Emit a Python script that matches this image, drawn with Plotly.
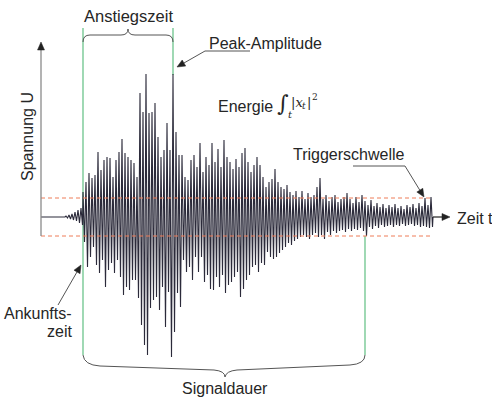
import math
import plotly.graph_objects as go

W, H = 492, 400

# ---- signal data (time in samples, voltage in arbitrary units) ----
quiet_t = [41, 65]
quiet_u = [0, 0]
precursor_t0 = 66
precursor_u = [1, -1, 2, -2, 3, -3, 5, -4, 7, -6, 9, -8]
burst_t0 = 83
dt = 1.5
peaks = [25, 35, 44, 39, 42, 65, 47, 57, 60, 59,
         40, 57, 65, 78, 64, 60, 57, 54, 40, 124,
         105, 143, 104, 105, 114, 80, 60, 67, 94, 67,
         143, 85, 62, 62, 40, 37, 57, 62, 50, 74,
         45, 60, 52, 74, 55, 68, 50, 77, 60, 55,
         48, 58, 50, 64, 69, 55, 45, 52, 60, 52,
         40, 30, 35, 38, 48, 35, 30, 28, 32, 25,
         22, 26, 20, 26, 18, 24, 20, 22, 30, 39,
         18, 22, 16, 20, 22, 15, 18, 20, 24, 18,
         14, 20, 15, 22, 16, 12, 17, 11, 14, 10,
         13, 9, 12, 10, 13, 9, 11, 8, 12, 10,
         13, 9, 14, 11, 19, 12, 20]
troughs = [-25, -50, -40, -30, -48, -56, -43, -70, -53, -46,
           -56, -43, -60, -78, -70, -73, -63, -63, -81, -108,
           -128, -138, -91, -83, -80, -93, -70, -110, -75, -140,
           -115, -76, -90, -43, -55, -50, -63, -40, -55, -40,
           -65, -58, -72, -73, -60, -70, -58, -76, -68, -65,
           -60, -55, -80, -72, -63, -58, -50, -48, -55, -46,
           -48, -35, -40, -42, -40, -36, -33, -30, -26, -28,
           -24, -22, -20, -18, -20, -22, -18, -16, -20, -18,
           -22, -15, -18, -14, -16, -14, -13, -15, -12, -14,
           -12, -13, -11, -14, -19, -10, -12, -9, -11, -8,
           -10, -9, -8, -10, -8, -9, -7, -9, -8, -7,
           -9, -8, -10, -9, -10, -11, -10]
end_t = 433
threshold = 19

# assemble the polyline
t = list(quiet_t)
u = list(quiet_u)
for i, v in enumerate(precursor_u):
    t.append(precursor_t0 + i * dt)
    u.append(v)
for k, (p, n) in enumerate(zip(peaks, troughs)):
    t.append(burst_t0 + 2 * k * dt)
    u.append(p)
    t.append(burst_t0 + (2 * k + 1) * dt)
    u.append(n)
t.append(end_t)
u.append(0)

FONT = "Liberation Sans, Arial, sans-serif"
MATH = "DejaVu Serif, serif"
TXT = "#262626"
GREEN = "#6cc48c"
ORANGE = "#ee7d58"
GREY = "#555555"


def X(px):
    return px / W


def Y(py):
    return 1 - py / H


def path(cmds, close=False):
    out = []
    for c in cmds:
        if isinstance(c, str):
            out.append(c)
        else:
            out.append(f"{X(c[0]):.5f},{Y(c[1]):.5f}")
    if close:
        out.append("Z")
    return " ".join(out)


fig = go.Figure()
fig.add_trace(go.Scatter(x=t, y=u, mode="lines",
                         line=dict(color="#2b2a3a", width=1.1),
                         hoverinfo="skip", showlegend=False))

shapes = []
# trigger threshold lines
for lvl in (threshold, -threshold):
    shapes.append(dict(type="line", xref="x", yref="y", x0=41, x1=end_t,
                       y0=lvl, y1=lvl,
                       line=dict(color=ORANGE, width=1, dash="4px,3px")))
# green markers: arrival, peak, end of signal
for (gx, ya, yb) in [(83, 28, 355), (173, 28, 75), (365, 236, 355)]:
    shapes.append(dict(type="line", xref="paper", yref="paper",
                       x0=X(gx), x1=X(gx), y0=Y(ya), y1=Y(yb),
                       line=dict(color=GREEN, width=1.3), layer="below"))
# braces
top_brace = path(["M", (83, 42), "Q", (83, 35), (90, 35), "L", (121, 35),
                  "Q", (128, 35), (128, 29), "Q", (128, 35), (135, 35),
                  "L", (166, 35), "Q", (173, 35), (173, 42)])
bottom_brace = path(["M", (83, 355), "Q", (84, 365), (100, 366), "L", (214, 370),
                     "Q", (225, 371), (225, 377), "Q", (226, 371), (237, 370),
                     "L", (350, 365), "Q", (365, 364), (365, 355)])
for p in (top_brace, bottom_brace):
    shapes.append(dict(type="path", xref="paper", yref="paper", path=p,
                       line=dict(color=GREY, width=1)))
# leader underlines
shapes.append(dict(type="line", xref="paper", yref="paper",
                   x0=X(205), x1=X(250), y0=Y(51), y1=Y(51),
                   line=dict(color=GREY, width=1)))
shapes.append(dict(type="line", xref="paper", yref="paper",
                   x0=X(353), x1=X(405), y0=Y(166), y1=Y(166),
                   line=dict(color=GREY, width=1)))


def arrow(tail, head, color=GREY, head_color="#222222", width=1, length=8, half=3.5):
    dx, dy = head[0] - tail[0], head[1] - tail[1]
    d = math.hypot(dx, dy)
    ux, uy = dx / d, dy / d
    bx, by = head[0] - ux * length, head[1] - uy * length
    shapes.append(dict(type="line", xref="paper", yref="paper",
                       x0=X(tail[0]), y0=Y(tail[1]), x1=X(bx), y1=Y(by),
                       line=dict(color=color, width=width)))
    tri = path(["M", head, "L", (bx - uy * half, by + ux * half),
                "L", (bx + uy * half, by - ux * half)], close=True)
    shapes.append(dict(type="path", xref="paper", yref="paper", path=tri,
                       fillcolor=head_color, line=dict(color=head_color, width=0.5)))


arrow((41, 236), (41, 42), color="#8a8a8a", width=1.3)
arrow((433, 217), (450, 217), color="#222222", width=1.2)
arrow((205, 51), (177, 67))
arrow((405, 166), (424, 197))
arrow((58, 305), (81, 265))

ann = []


def text(s, x, y, xanchor="left", size=16, family=FONT, **kw):
    ann.append(dict(text=s, x=X(x), y=Y(y), xref="paper", yref="paper",
                    xanchor=xanchor, yanchor="middle", showarrow=False,
                    font=dict(family=family, size=size, color=TXT), **kw))


text("Anstiegszeit", 128, 16, xanchor="center", size=16.5)
text("Peak-Amplitude", 207, 43)
# energy label with its integral written out piece by piece
text("Energie", 216, 106)
text("∫", 283, 103, xanchor="center", size=22, family=MATH)
text("<i>t</i>", 286, 115, size=10, family=MATH)
text("|<i>x</i>", 289, 102, size=13, family=MATH)
text("<i>t</i>", 300, 106, size=9, family=MATH)
text("|", 305, 102, size=13, family=MATH)
text("2", 310, 97, size=9, family=MATH)
text("Triggerschwelle", 291, 155)
text("Zeit t", 455, 218)
text("Signaldauer", 225, 388, xanchor="center")
text("Ankunfts-", 74, 313, xanchor="right")
text("zeit", 74, 331, xanchor="right")
text("Spannung U", 27, 137, xanchor="center", textangle=-90)

fig.update_layout(
    width=W, height=H,
    margin=dict(l=0, r=0, t=0, b=0),
    paper_bgcolor="white", plot_bgcolor="white",
    xaxis=dict(range=[0, W], visible=False, fixedrange=True),
    yaxis=dict(range=[217 - H, 217], visible=False, fixedrange=True),
    shapes=shapes, annotations=ann, showlegend=False,
)

fig.write_html("out.html")
